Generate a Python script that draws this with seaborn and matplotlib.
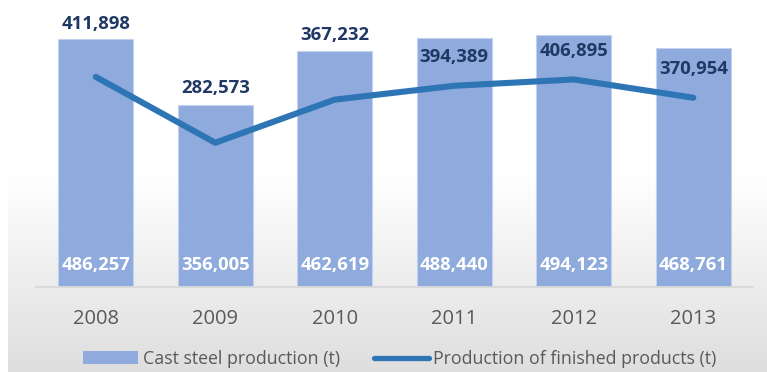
import numpy as np
import pandas as pd
import matplotlib
matplotlib.use("Agg")
import matplotlib.pyplot as plt
import seaborn as sns
from matplotlib.lines import Line2D
from matplotlib.patches import Patch

years = ["2008", "2009", "2010", "2011", "2012", "2013"]
cast_steel = [486257, 356005, 462619, 488440, 494123, 468761]
finished = [411898, 282573, 367232, 394389, 406895, 370954]

bar_label = "Cast steel production (t)"
line_label = "Production of finished products (t)"

# vertical offset (pixels) of each line label above its point
line_label_offsets = [53, 55, 65, 29, 28, 29]

BAR_COLOR = "#8FAADC"
LINE_COLOR = "#2E75B6"
LABEL_DARK = "#203864"
TEXT_GREY = "#595959"

sns.set_theme(style="white")
plt.rcParams["font.family"] = ["Open Sans", "DejaVu Sans"]

W, H = 767, 372
fig = plt.figure(figsize=(W / 100, H / 100), dpi=100)

# chart-area background: white fading to light grey towards the bottom
bg = fig.add_axes([0, 0, 1, 1], zorder=-10)
bg.set_axis_off()
grad = np.ones((H, W, 3))
rows = np.arange(H)
start = 175
t = np.clip((rows - start) / (H - start), 0, 1)
col = 1.0 - t * (1.0 - 0xDE / 255)
grad[:, :, :] = col[:, None, None]
grad[:, :8, :] = 1.0
bg.imshow(grad, extent=[0, W, H, 0], aspect="auto", interpolation="bilinear")
bg.set_xlim(0, W)
bg.set_ylim(H, 0)

ax_left, ax_right = 36, 753
ax_bottom = 286.7
ax = fig.add_axes([ax_left / W, 1 - ax_bottom / H, (ax_right - ax_left) / W, ax_bottom / H])
ax.set_facecolor("none")

df = pd.DataFrame({"year": years, "cast": cast_steel, "finished": finished})
sns.barplot(data=df, x="year", y="cast", color=BAR_COLOR, saturation=1,
            width=0.63, edgecolor="#c3d2ee", linewidth=0.8, ax=ax, zorder=2)
pos = np.arange(len(years))
sns.lineplot(x=pos, y=df["finished"], color=LINE_COLOR, linewidth=4.4, ax=ax,
             zorder=3, solid_capstyle="round", solid_joinstyle="round")

ax.set_xlim(-0.5, len(years) - 0.5)
ax.set_ylim(0, 562800)
ax.set_xlabel("")
ax.set_ylabel("")
ax.set_yticks([])
for s in ["top", "left", "right"]:
    ax.spines[s].set_visible(False)
ax.spines["bottom"].set_color("#d9d9d9")
ax.spines["bottom"].set_linewidth(1.3)
ax.tick_params(axis="x", length=0, pad=16, labelsize=14.5, labelcolor=TEXT_GREY)

# value labels
for i, v in enumerate(cast_steel):
    ax.annotate(f"{v:,}", xy=(i, 0), xytext=(0, 22), textcoords="offset pixels",
                ha="center", va="center", color="white", fontsize=13.3,
                fontweight="bold", zorder=5)
for i, v in enumerate(finished):
    ax.annotate(f"{v:,}", xy=(i, v), xytext=(0, line_label_offsets[i]),
                textcoords="offset pixels", ha="center", va="center",
                color=LABEL_DARK, fontsize=13.3, fontweight="bold", zorder=5,
                annotation_clip=False)

handles = [Patch(facecolor=BAR_COLOR, edgecolor="none"),
           Line2D([0], [0], color=LINE_COLOR, linewidth=3.8, solid_capstyle="round")]
fig.legend(handles, [bar_label, line_label], loc="center",
           bbox_to_anchor=(400 / W, 1 - 359 / H), ncol=2, frameon=False,
           fontsize=12.8, labelcolor=TEXT_GREY, handlelength=3.1,
           handleheight=0.75, handletextpad=0.25, columnspacing=1.9)

fig.savefig("out.png", dpi=100)
